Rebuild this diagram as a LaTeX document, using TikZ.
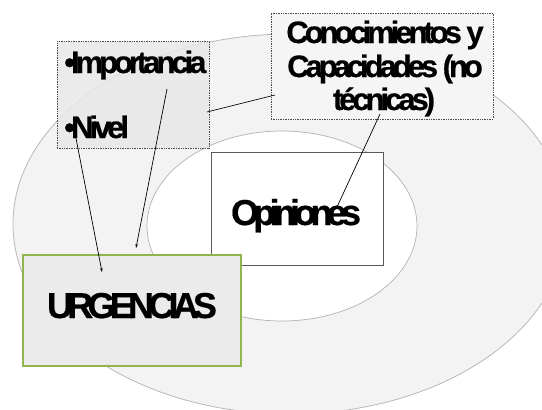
\documentclass[tikz,border=0pt]{standalone}
\usepackage{fontspec}
\setmainfont{Liberation Sans}
\newfontfamily\apretada[LetterSpace=-13,FakeBold=0.5]{Liberation Sans}
\newfontfamily\muyapretada[LetterSpace=-16,FakeBold=0.5]{Liberation Sans}
\usetikzlibrary{arrows.meta}
\definecolor{ringgray}{RGB}{243,243,243}
\definecolor{urggreen}{RGB}{143,182,76}
\begin{document}
\begin{tikzpicture}[x=1pt,y=-1pt,
    every node/.style={inner sep=0pt},
    nota/.style={rectangle, draw=black!70, dash pattern=on 1pt off 0.7pt, line width=0.8pt},
    rotulo/.style={font=\apretada\bfseries\fontsize{#1}{#1}\selectfont, text=black},
    rotulogrande/.style={font=\muyapretada\bfseries\fontsize{#1}{#1}\selectfont, text=black},
    enlace/.style={line width=0.7pt},
    punta/.style={-{Stealth[length=4pt,width=2.6pt]}}]
  \useasboundingbox (0,0) rectangle (542,410);
  \clip (0,0) rectangle (542,410);
  % anillos
  \draw[draw=black!28, fill=ringgray, line width=0.8pt] (290,224) ellipse [x radius=277pt, y radius=190pt];
  \draw[draw=black!30, fill=white, line width=0.7pt] (282,226) ellipse [x radius=135pt, y radius=95pt];
  % cajas
  \node[nota, fill=black!9, fill opacity=0.85, minimum width=152pt, minimum height=107pt] (imp) at (133,94.5) {};
  \node[nota, fill=black!4, minimum width=222pt, minimum height=106pt] (conoc) at (382,66) {};
  \node[draw=black!65, line width=1pt, fill=white, minimum width=172pt, minimum height=113pt] (opin) at (297,208.5) {};
  \node[draw=urggreen, line width=1.5pt, fill=black!8, minimum width=218pt, minimum height=111pt] (urg) at (132,310.5) {};
  % textos
  \node[rotulogrande=36, anchor=base] (opintxt) at (296,225) {Opiniones};
  \node[rotulogrande=36, anchor=base] (urgtxt) at (132,318) {URGENCIAS};
  \node[rotulo=31, anchor=base west] (imptxt) at (64,73) {•Importancia};
  \node[rotulo=31, anchor=base west] (niveltxt) at (64,138) {•Nivel};
  \node[rotulo=31, anchor=base] (conoc1) at (385,43) {Conocimientos y};
  \node[rotulo=31, anchor=base] (conoc2) at (385,77) {Capacidades (no};
  \node[rotulo=31, anchor=base] (conoc3) at (384,110) {técnicas)};
  % enlaces
  \coordinate (impa) at (167,89);
  \coordinate (urga) at (136,248);
  \coordinate (nivela) at (74,128);
  \coordinate (urgb) at (102,272);
  \coordinate (conoca) at (275,95);
  \coordinate (impb) at (207,112);
  \coordinate (conocb) at (380,114);
  \coordinate (opina) at (337,207);
  \draw[enlace, punta](impa) -- (urga);
  \draw[enlace, punta](nivela) -- (urgb);
  \draw[enlace](conoca) -- (impb);
  \draw[enlace](conocb) -- (opina);
\end{tikzpicture}
\end{document}
